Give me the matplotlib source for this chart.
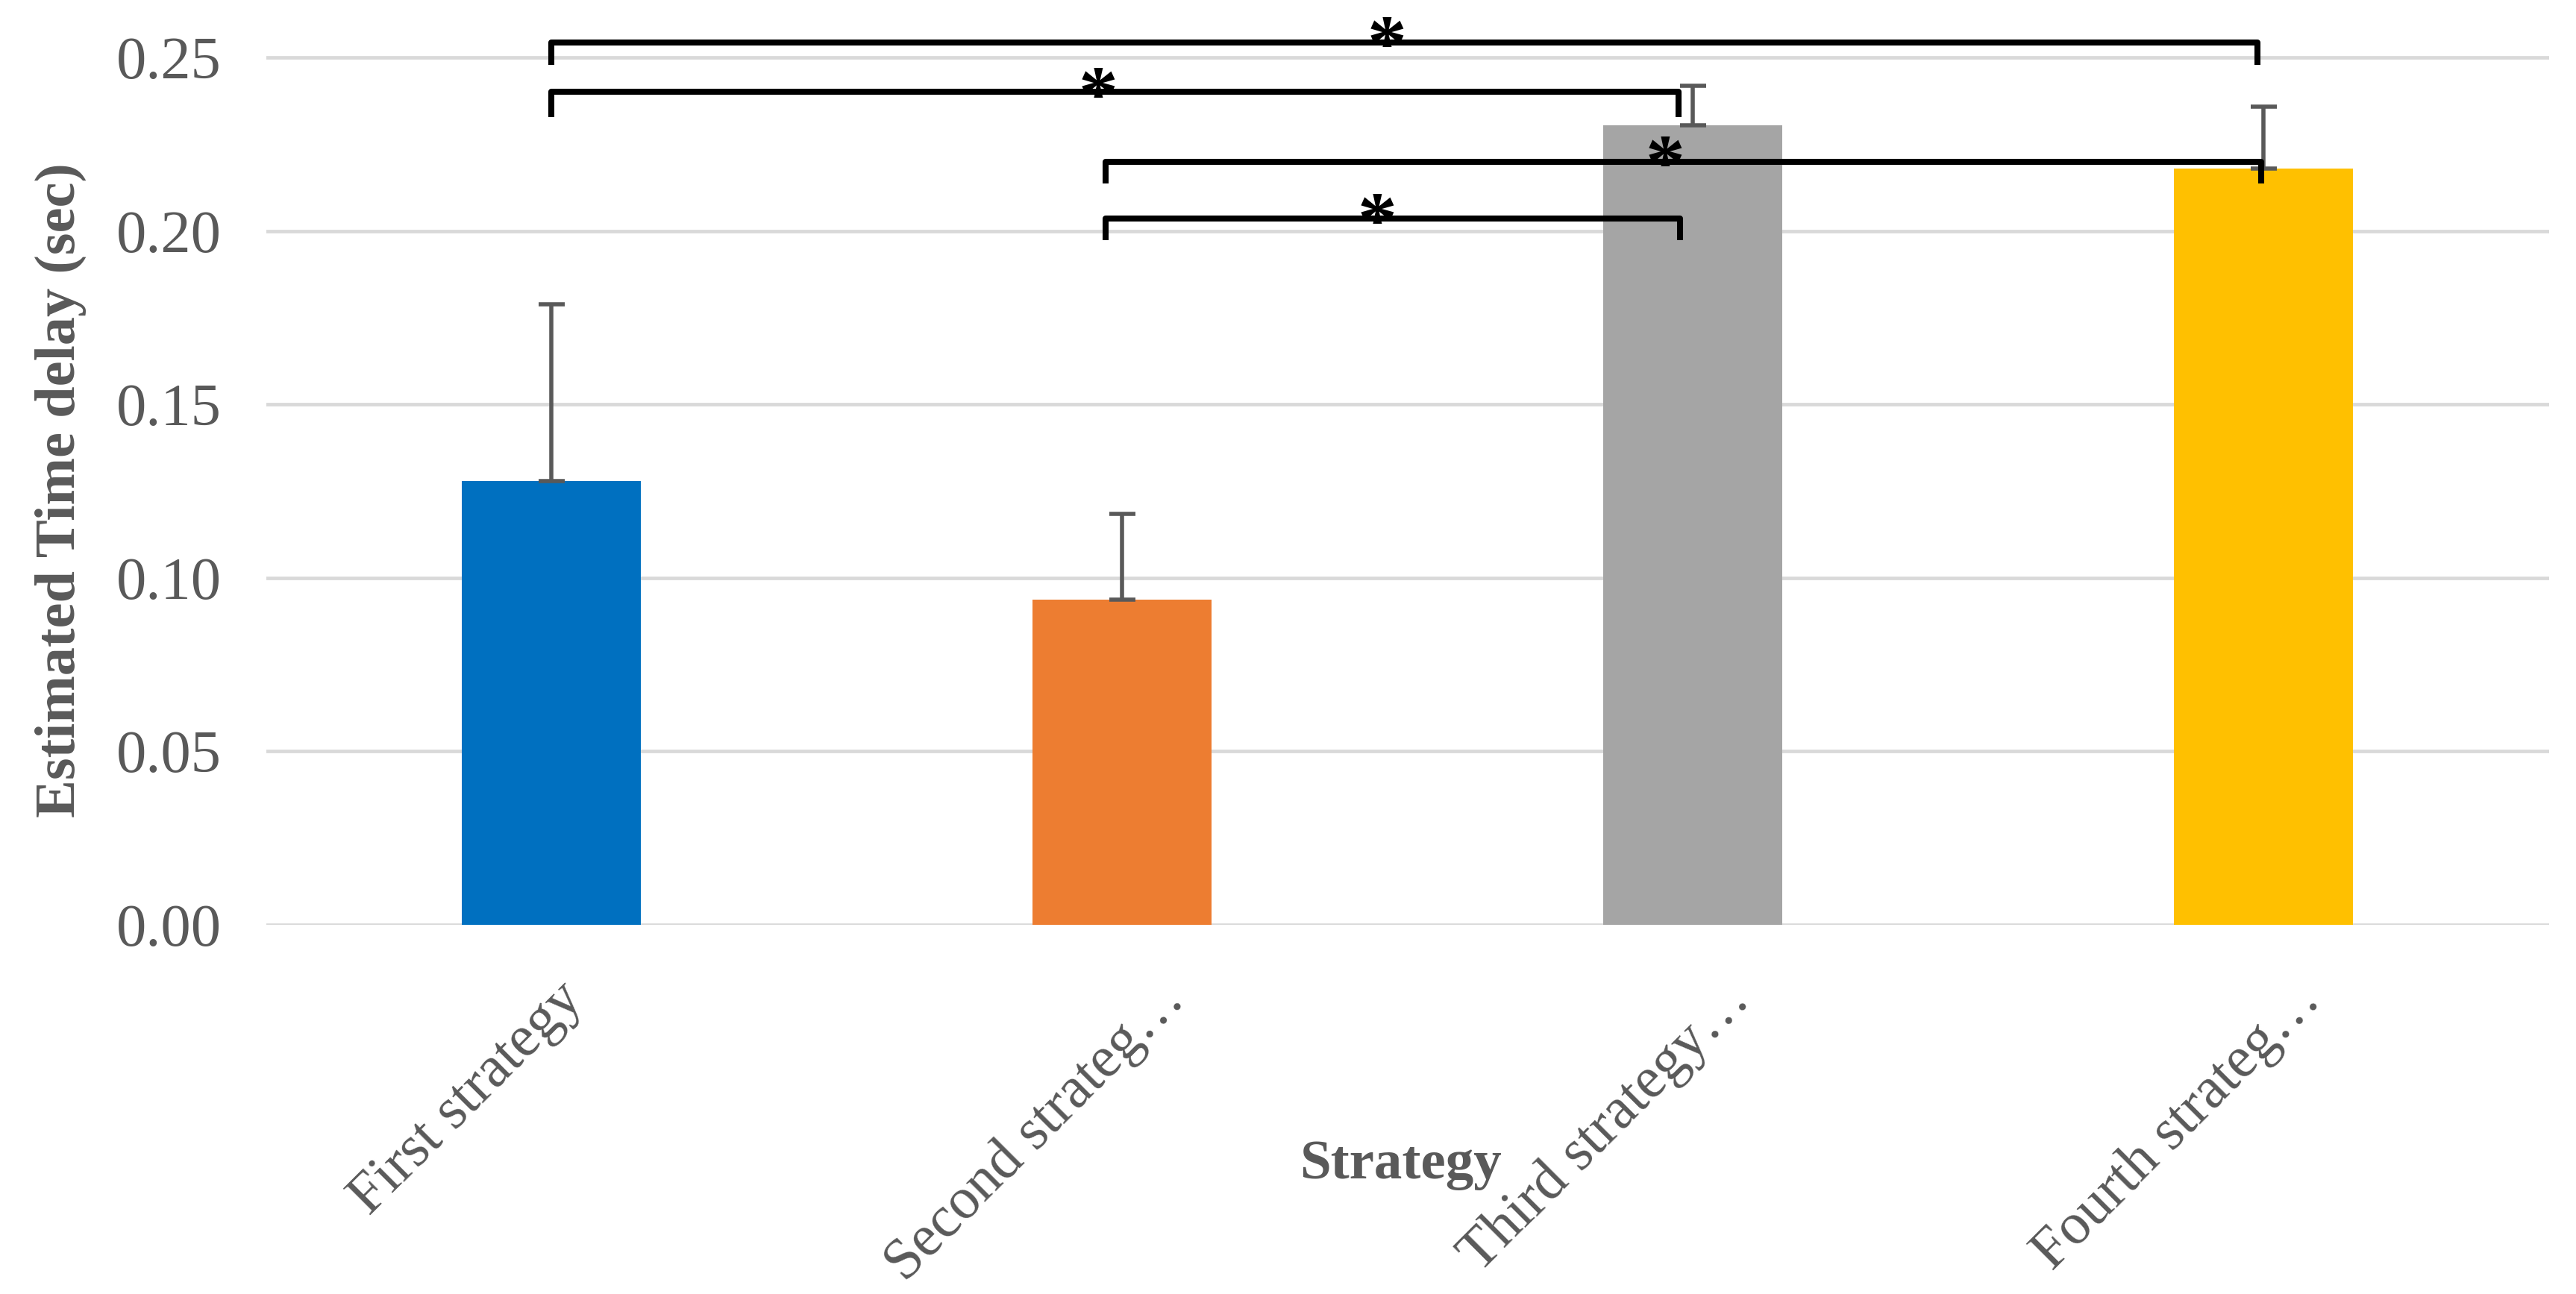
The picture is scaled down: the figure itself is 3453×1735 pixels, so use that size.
import matplotlib
matplotlib.use("Agg")
import matplotlib.pyplot as plt
import matplotlib.transforms as mtransforms
import numpy as np

# ---- data ----
categories = ["First strategy", "Second strateg\u2026", "Third strategy\u2026", "Fourth strateg\u2026"]
values = [0.128, 0.0937, 0.2304, 0.2180]
errors = [0.0508, 0.0247, 0.0114, 0.0178]
colors = ["#0070C0", "#ED7D31", "#A5A5A5", "#FFC000"]
yticks = [0.00, 0.05, 0.10, 0.15, 0.20, 0.25]
ytick_labels = ["0.00", "0.05", "0.10", "0.15", "0.20", "0.25"]

# significance brackets
bracket_left = [0.0, 0.0, 0.971, 0.971]
bracket_right = [2.99, 1.975, 2.996, 1.978]
bracket_top = [0.2543, 0.2401, 0.2199, 0.2036]
bracket_bottom = [0.2479, 0.2328, 0.2137, 0.1973]
star_x = [1.464, 0.958, 1.952, 1.447]
star_y = [0.2574, 0.2428, 0.2230, 0.2065]

FONT = "Liberation Serif"
GREY = "#595959"

fig = plt.figure(figsize=(34.53, 17.35), dpi=100)
ax = fig.add_axes([356.5 / 3453, 1 - 1240 / 1735, 3060 / 3453, 1232.8 / 1735])

x = np.arange(len(categories))
ax.bar(x, values, width=0.314, color=colors, zorder=2)
ax.errorbar(x, values, yerr=[np.zeros(len(errors)), errors], fmt="none",
            ecolor=GREY, elinewidth=4.0, capsize=12.6, capthick=4.0, zorder=3)

ax.set_xlim(-0.5, 3.5)
ax.set_ylim(0, 0.265)
ax.set_yticks(yticks)
ax.set_yticklabels(ytick_labels, fontsize=58, family=FONT, color=GREY)
ax.set_xticks(x)
ax.set_xticklabels(categories, fontsize=56, family=FONT, color=GREY,
                   rotation=45, ha="right", va="top", rotation_mode="anchor")
ax.tick_params(axis="y", length=0, pad=43)
ax.tick_params(axis="x", length=0, pad=46)
ax.yaxis.grid(True, color="#D9D9D9", linewidth=3.4, zorder=0)
ax.set_axisbelow(True)
for s in ax.spines.values():
    s.set_visible(False)

# horizontal nudges of the rotated category labels (pixels)
label_dx = [6, 48, 40, 40]
for lab, dx in zip(ax.get_xticklabels(), label_dx):
    lab.set_transform(lab.get_transform() +
                      mtransforms.ScaledTranslation(dx / 100.0, 0, fig.dpi_scale_trans))

ax.set_ylabel("Estimated Time delay (sec)", fontsize=55, family=FONT,
              fontweight="bold", color=GREY, va="baseline")
ax.yaxis.set_label_coords(-0.0838, 0.4729)
ax.set_xlabel("Strategy", fontsize=54, family=FONT, fontweight="bold",
              color=GREY, va="baseline")
ax.xaxis.set_label_coords(0.497, -0.2758)

for xl, xr, yt, yb in zip(bracket_left, bracket_right, bracket_top, bracket_bottom):
    ax.plot([xl, xl, xr, xr], [yb, yt, yt, yb], color="black", linewidth=5.8,
            solid_joinstyle="round", solid_capstyle="butt", zorder=4, clip_on=False)

star_fs = 76
star_trans = mtransforms.offset_copy(ax.transData, fig=fig, x=0, y=-0.24 * star_fs, units="points")
for sx, sy in zip(star_x, star_y):
    ax.text(sx, sy, "*", fontsize=star_fs, family=FONT, fontweight="bold",
            color="black", ha="center", va="center", transform=star_trans,
            zorder=5, clip_on=False)

fig.savefig("out.png", dpi=100)
